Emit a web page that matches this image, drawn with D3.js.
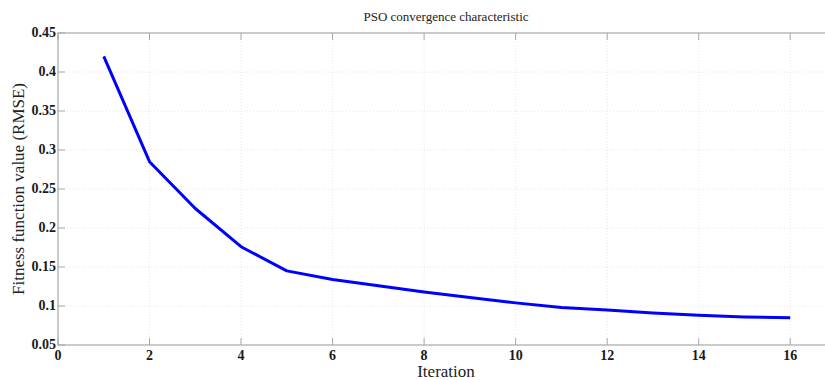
<!DOCTYPE html>
<html><head><meta charset="utf-8">
<script src="https://cdn.jsdelivr.net/npm/d3@7"></script>
<style>body{margin:0;background:#fff}svg{display:block}text{font-family:"Liberation Serif","Times New Roman",serif}</style>
</head><body>
<svg id="c" width="825" height="380"></svg>
<script>
const iterations = [1,2,3,4,5,6,7,8,9,10,11,12,13,14,15,16];
const fitness = [0.42,0.285,0.225,0.176,0.145,0.134,0.126,0.118,0.111,0.104,0.098,0.095,0.091,0.088,0.086,0.085];
const xTicks = [0,2,4,6,8,10,12,14,16];
const yTicks = [0.05,0.1,0.15,0.2,0.25,0.3,0.35,0.4,0.45];
const title = "PSO convergence characteristic";
const xLabel = "Iteration";
const yLabel = "Fitness function value (RMSE)";

const svg = d3.select("#c");
const L = 58, R = 836, T = 33, B = 345;
const x = d3.scaleLinear().domain([0,17]).range([L,R]);
const y = d3.scaleLinear().domain([0.05,0.45]).range([B,T]);
const axisCol = "#a8a8a8";

// grid
const g = svg.append("g");
g.selectAll(".gx").data(xTicks.slice(1)).enter().append("line")
  .attr("x1",d=>x(d)).attr("x2",d=>x(d)).attr("y1",T).attr("y2",B)
  .attr("stroke","#e6e6e6").attr("stroke-width",1).attr("stroke-dasharray","1,2");
g.selectAll(".gy").data(yTicks.slice(1,-1)).enter().append("line")
  .attr("x1",L).attr("x2",R).attr("y1",d=>y(d)).attr("y2",d=>y(d))
  .attr("stroke","#e6e6e6").attr("stroke-width",1).attr("stroke-dasharray","1,2");

// axes frame
svg.append("rect").attr("x",L).attr("y",T).attr("width",R-L).attr("height",B-T)
  .attr("fill","none").attr("stroke",axisCol).attr("stroke-width",1.2);

// ticks (inward)
svg.selectAll(".tb").data(xTicks).enter().append("line")
  .attr("x1",d=>x(d)).attr("x2",d=>x(d)).attr("y1",B).attr("y2",B-7)
  .attr("stroke",axisCol).attr("stroke-width",1);
svg.selectAll(".tt").data(xTicks).enter().append("line")
  .attr("x1",d=>x(d)).attr("x2",d=>x(d)).attr("y1",T).attr("y2",T+7)
  .attr("stroke",axisCol).attr("stroke-width",1);
svg.selectAll(".tl").data(yTicks).enter().append("line")
  .attr("x1",L).attr("x2",L+7).attr("y1",d=>y(d)).attr("y2",d=>y(d))
  .attr("stroke",axisCol).attr("stroke-width",1);

// tick labels
svg.selectAll(".xl").data(xTicks).enter().append("text")
  .attr("x",d=>x(d)).attr("y",B+15).attr("text-anchor","middle")
  .attr("font-weight","bold").attr("font-size",14).attr("fill","#1a1a1a")
  .text(d=>d);
svg.selectAll(".yl").data(yTicks).enter().append("text")
  .attr("x",L-2).attr("y",d=>y(d)+4).attr("text-anchor","end")
  .attr("font-weight","bold").attr("font-size",14).attr("fill","#1a1a1a")
  .text(d=>d);

// line
const line = d3.line().x((d,i)=>x(iterations[i])).y(d=>y(d));
svg.append("path").datum(fitness).attr("d",line)
  .attr("fill","none").attr("stroke","#0000ff").attr("stroke-width",3).attr("stroke-linejoin","round");

// labels
svg.append("text").attr("x",446).attr("y",21).attr("text-anchor","middle")
  .attr("font-size",13).attr("fill","#222").text(title);
svg.append("text").attr("x",446).attr("y",377).attr("text-anchor","middle")
  .attr("font-size",17).attr("fill","#222").text(xLabel);
svg.append("text").attr("transform",`translate(24,${(T+B)/2}) rotate(-90)`).attr("text-anchor","middle")
  .attr("font-size",17).attr("fill","#222").text(yLabel);
</script>
</body></html>
